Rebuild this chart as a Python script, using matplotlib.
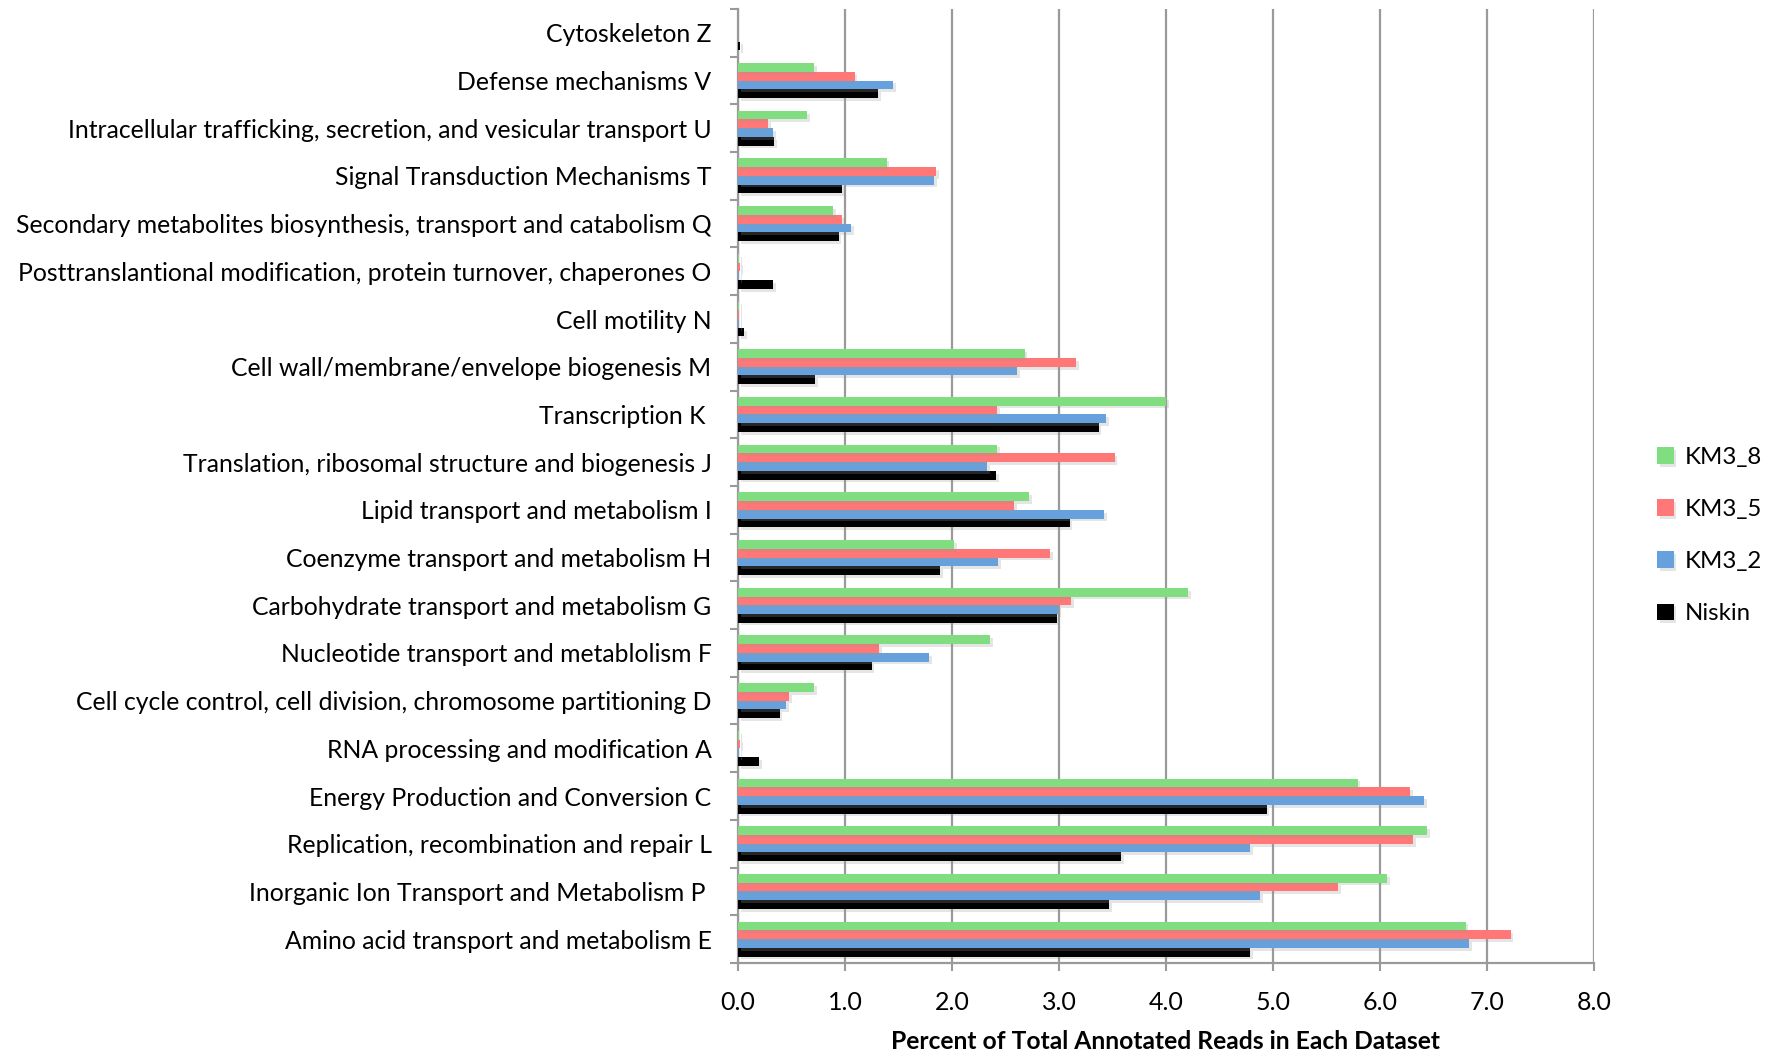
import matplotlib
matplotlib.use("Agg")
import matplotlib.pyplot as plt
import matplotlib.patheffects as pe
import numpy as np

plt.rcParams['font.family'] = ['Lato', 'DejaVu Sans']

# COG categories, listed bottom to top
categories = [
    "Amino acid transport and metabolism E",
    "Inorganic Ion Transport and Metabolism P ",
    "Replication, recombination and repair L",
    "Energy Production and Conversion C",
    "RNA processing and modification A",
    "Cell cycle control, cell division, chromosome partitioning D",
    "Nucleotide transport and metablolism F",
    "Carbohydrate transport and metabolism G",
    "Coenzyme transport and metabolism H",
    "Lipid transport and metabolism I",
    "Translation, ribosomal structure and biogenesis J",
    "Transcription K ",
    "Cell wall/membrane/envelope biogenesis M",
    "Cell motility N",
    "Posttranslantional modification, protein turnover, chaperones O",
    "Secondary metabolites biosynthesis, transport and catabolism Q",
    "Signal Transduction Mechanisms T",
    "Intracellular trafficking, secretion, and vesicular transport U",
    "Defense mechanisms V",
    "Cytoskeleton Z",
]

# Percent of total annotated reads per dataset (same order as categories)
niskin = [4.79, 3.47, 3.58, 4.94, 0.20, 0.39, 1.25, 2.98, 1.89, 3.10,
          2.41, 3.37, 0.72, 0.06, 0.33, 0.94, 0.97, 0.34, 1.31, 0.02]
km3_2 = [6.83, 4.88, 4.79, 6.41, 0.01, 0.45, 1.79, 2.99, 2.43, 3.42,
         2.33, 3.44, 2.61, 0.01, 0.01, 1.06, 1.83, 0.33, 1.45, 0.0]
km3_5 = [7.22, 5.61, 6.31, 6.28, 0.02, 0.48, 1.32, 3.11, 2.92, 2.58,
         3.52, 2.42, 3.16, 0.01, 0.02, 0.97, 1.85, 0.28, 1.09, 0.0]
km3_8 = [6.80, 6.07, 6.44, 5.79, 0.01, 0.71, 2.36, 4.21, 2.02, 2.72,
         2.42, 4.00, 2.68, 0.01, 0.01, 0.89, 1.39, 0.65, 0.71, 0.0]

series = [
    ("Niskin", niskin, "#000000"),
    ("KM3_2", km3_2, "#66A1DD"),
    ("KM3_5", km3_5, "#FF7777"),
    ("KM3_8", km3_8, "#80DE80"),
]

xticks = [0, 1, 2, 3, 4, 5, 6, 7, 8]
xticklabels = ["0.0", "1.0", "2.0", "3.0", "4.0", "5.0", "6.0", "7.0", "8.0"]

fig = plt.figure(figsize=(17.92, 10.55), dpi=100)
ax = fig.add_axes([0.4118, 0.0872, 0.8895 - 0.4118, 0.9915 - 0.0872])

y = np.arange(len(categories))
h = 0.183
shadow = [pe.SimplePatchShadow(offset=(2, -2), shadow_rgbFace="#999999", alpha=0.25), pe.Normal()]
handles = {}
for i, (name, vals, color) in enumerate(series):
    bars = ax.barh(y + (i - 1.5) * h, vals, height=h, color=color, zorder=3, label=name)
    for b in bars:
        b.set_path_effects(shadow)
    handles[name] = bars

ax.set_xlim(0, 8)
ax.set_ylim(-0.5, len(categories) - 0.5)

grid_col = "#9a9a9a"
ax.set_xticks(xticks)
ax.set_xticklabels(xticklabels, fontsize=18)
ax.xaxis.grid(True, color=grid_col, linewidth=1.6, zorder=0)
ax.set_axisbelow(True)
ax.tick_params(axis="x", direction="out", length=6, width=1.5, color=grid_col, pad=14)

ax.set_yticks(y)
ax.set_yticklabels(categories, fontsize=17.8)
ax.set_yticks(np.arange(len(categories) + 1) - 0.5, minor=True)
ax.tick_params(axis="y", which="major", length=0, pad=19)
ax.tick_params(axis="y", which="minor", direction="out", length=6, width=1.5, color=grid_col)

for s in ("top", "right"):
    ax.spines[s].set_visible(False)
for s in ("left", "bottom"):
    ax.spines[s].set_color(grid_col)
    ax.spines[s].set_linewidth(1.6)

ax.set_xlabel("Percent of Total Annotated Reads in Each Dataset", fontsize=17.7,
              fontweight="bold", labelpad=12)

order = ["KM3_8", "KM3_5", "KM3_2", "Niskin"]
leg = fig.legend([handles[k] for k in order], order, loc="upper left",
                 bbox_to_anchor=(0.9125, 0.597), frameon=False, fontsize=17.3,
                 handlelength=0.7, handleheight=0.7, handletextpad=0.45,
                 labelspacing=1.3)

fig.savefig("out.png", dpi=100)
